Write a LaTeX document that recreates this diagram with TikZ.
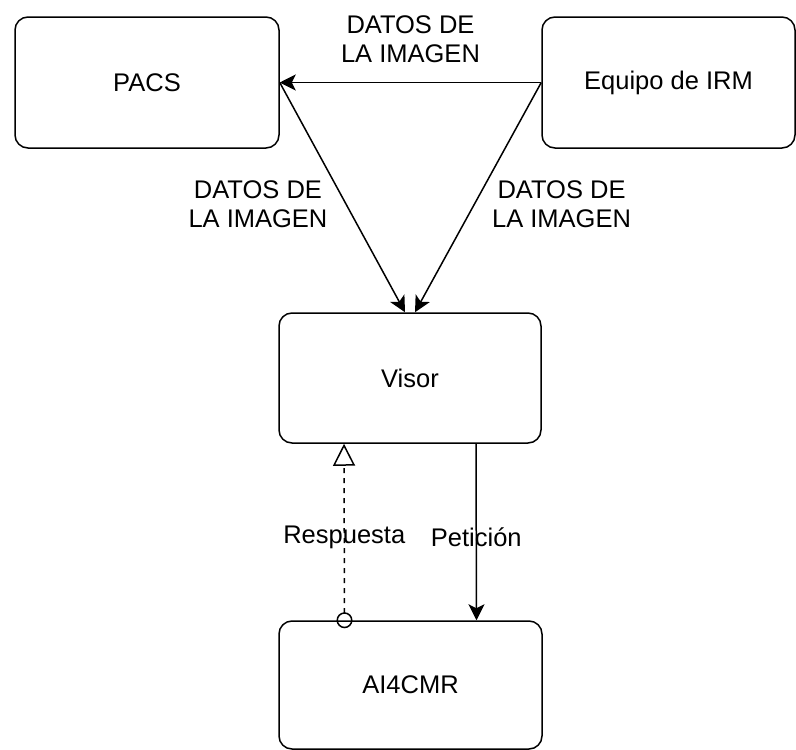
\documentclass[tikz,border=0pt]{standalone}
\usepackage{fontspec}
\setmainfont{Liberation Sans}
\usetikzlibrary{arrows.meta}
\tikzset{
  box/.style={draw, rounded corners=13pt, line width=1.5pt, minimum width=264pt,
    minimum height=131pt, inner sep=0pt, font=\fontsize{25.5}{29}\selectfont},
  lbl/.style={align=center, inner sep=0pt, font=\fontsize{25.5}{29}\selectfont},
  flow/.style={line width=1.5pt, -{Stealth[length=16pt,width=16pt,inset=4pt]}},
  reply/.style={line width=1.5pt, dash pattern=on 5pt off 5pt, shorten <=-8pt,
    {Circle[open,length=16pt,width=16pt]}-{Triangle[open,length=22pt,width=22pt]}}
}
\begin{document}
\begin{tikzpicture}[x=1pt,y=-1pt]
\useasboundingbox (0,0) rectangle (796,750);
% The four blocks
\node[box] (pacs) at (147,82.5) {PACS};
\node[box, minimum width=253pt] (irm) at (668.5,82.5) {Equipo de IRM};
\node[box, minimum width=262pt, minimum height=130pt] (visor) at (410,378) {Visor};
\node[box, minimum width=263pt, minimum height=128pt] (ai) at (410.5,685) {AI4CMR};

% Image data going to PACS and to the viewer
\draw[flow] (irm.west) -- (pacs.east) node[midway, above=19pt, lbl] {DATOS DE\\LA IMAGEN};
\draw[flow] (pacs.east) -- ([xshift=-5pt]visor.north) node[pos=0.53, left=18pt, lbl] {DATOS DE\\LA IMAGEN};
\draw[flow] (irm.west) -- ([xshift=5pt]visor.north) node[pos=0.53, right=17pt, lbl] {DATOS DE\\LA IMAGEN};

% Request and answer between viewer and AI4CMR
\draw[flow] ([xshift=66pt]visor.south) -- ([xshift=66pt]ai.north) node[pos=0.53, lbl] {Petición};
\draw[reply] ([xshift=-66pt]ai.north) -- ([xshift=-66pt]visor.south) node[pos=0.47, lbl] {Respuesta};

\end{tikzpicture}
\end{document}
